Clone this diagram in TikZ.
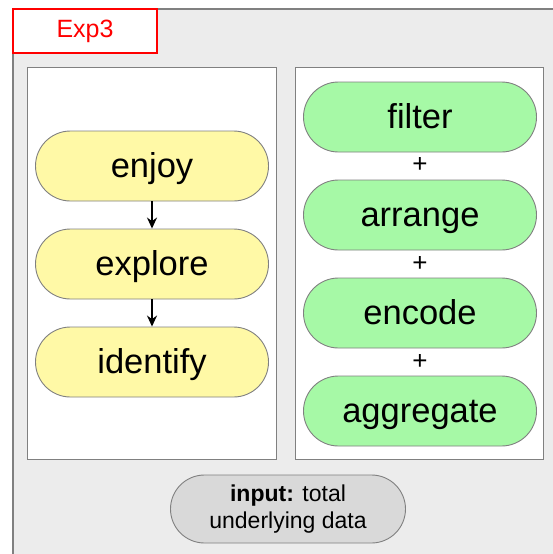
\documentclass[tikz,border=0pt]{standalone}
\usepackage{fontspec}
\usetikzlibrary{arrows.meta}
\setmainfont{Liberation Sans}
\definecolor{pillyellow}{HTML}{FFF9A6}
\definecolor{pillgreen}{HTML}{A6F9A6}
\definecolor{pillgray}{HTML}{D9D9D9}
\definecolor{backgray}{HTML}{ECECEC}
\definecolor{edgegray}{HTML}{808080}
\tikzset{
	pill/.style={draw=edgegray,line width=0.9pt,rounded corners=35pt,minimum width=233pt,minimum height=70pt,inner sep=0pt,text height=25pt,text depth=3pt,font=\fontsize{34.5}{40}\selectfont},
	plus/.style={inner sep=0pt,font=\fontsize{26}{28}\selectfont}
}
\begin{document}
\begin{tikzpicture}[x=1pt,y=-1pt]
		\useasboundingbox (0,0) rectangle (552,554);
		\fill[white] (0,0) rectangle (552,554);
		\draw[edgegray,line width=1.4pt,fill=backgray] (13,9) rectangle (570,570);
		\node[draw=red,line width=1.4pt,fill=white,minimum width=144pt,minimum height=44pt,inner sep=0pt,text=red,font=\fontsize{25}{30}\selectfont](title) at (85,31){Exp3};
		\draw[edgegray,line width=1pt,fill=white] (27,67) rectangle (276,459);
		\draw[edgegray,line width=1pt,fill=white] (295,67) rectangle (543,459);
		\node[pill,fill=pillyellow](enjoy) at (152,166){enjoy};
		\node[pill,fill=pillyellow](explore) at (152,264){explore};
		\node[pill,fill=pillyellow](identify) at (152,362){identify};
		\draw[black,line width=2pt,-{Stealth[length=11pt,width=10pt]}] (enjoy)--(explore);
		\draw[black,line width=2pt,-{Stealth[length=11pt,width=10pt]}] (explore)--(identify);
		\node[pill,fill=pillgreen](filter) at (420,117){filter};
		\node[pill,fill=pillgreen](arrange) at (420,215){arrange};
		\node[pill,fill=pillgreen](encode) at (420,313){encode};
		\node[pill,fill=pillgreen](aggregate) at (420,411){aggregate};
		\node[plus](p1) at (420,165){+};
		\node[plus](p2) at (420,264){+};
		\node[plus](p3) at (420,362){+};
		\node[pill,fill=pillgray,minimum width=235pt,minimum height=68pt,rounded corners=34pt,align=center,text height=,text depth=,font=\fontsize{23}{27}\selectfont](input) at (288,509){\textbf{input:} total\\underlying data};
	\end{tikzpicture}
\end{document}
